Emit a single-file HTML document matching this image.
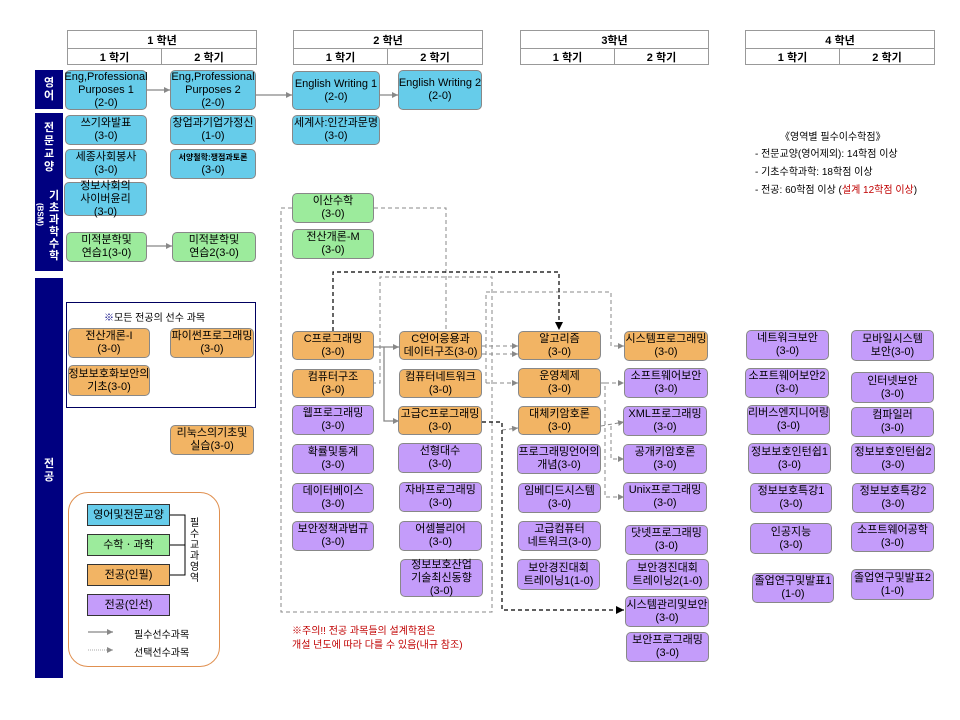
<!DOCTYPE html>
<html><head><meta charset="utf-8"><style>
body{margin:0;width:960px;height:720px;background:#fff;position:relative;overflow:hidden;font-family:"Liberation Sans","Noto Sans CJK KR","NanumGothic",sans-serif;}
.b{position:absolute;box-sizing:border-box;border:1px solid #888;border-radius:5px;display:flex;align-items:center;justify-content:center;text-align:center;font-size:11px;line-height:13px;color:#000;white-space:nowrap;overflow:visible;}
.bl{background:#66CCEA;}.g{background:#9CEB9C;}.o{background:#F2B464;}.p{background:#C49CFA;}
.h{position:absolute;box-sizing:border-box;border:1px solid #999;background:#fff;font-weight:bold;font-size:11px;display:flex;align-items:center;justify-content:center;}
.nav{position:absolute;background:#000080;}
.nl{position:absolute;color:#fff;font-weight:bold;font-size:11px;text-align:center;line-height:13px;width:28px;}
.t{position:absolute;font-size:10px;white-space:nowrap;}
svg{position:absolute;left:0;top:0;}
</style></head><body>
<!-- headers -->
<div class="h" style="left:67px;top:30px;width:190px;height:19px">1 학년</div>
<div class="h" style="left:67px;top:48px;width:95px;height:17px">1 학기</div>
<div class="h" style="left:161px;top:48px;width:96px;height:17px">2 학기</div>
<div class="h" style="left:293px;top:30px;width:190px;height:19px">2 학년</div>
<div class="h" style="left:293px;top:48px;width:95px;height:17px">1 학기</div>
<div class="h" style="left:387px;top:48px;width:96px;height:17px">2 학기</div>
<div class="h" style="left:520px;top:30px;width:189px;height:19px">3학년</div>
<div class="h" style="left:520px;top:48px;width:95px;height:17px">1 학기</div>
<div class="h" style="left:614px;top:48px;width:95px;height:17px">2 학기</div>
<div class="h" style="left:745px;top:30px;width:190px;height:19px">4 학년</div>
<div class="h" style="left:745px;top:48px;width:95px;height:17px">1 학기</div>
<div class="h" style="left:839px;top:48px;width:96px;height:17px">2 학기</div>
<!-- side bars -->
<div class="nav" style="left:35px;top:70px;width:28px;height:39px"></div>
<div class="nl" style="left:35px;top:77px">영<br>어</div>
<div class="nav" style="left:35px;top:113px;width:28px;height:158px"></div>
<div class="nl" style="left:35px;top:122px">전<br>문<br>교<br>양</div>
<div class="nl" style="left:40px;top:190px;line-height:12px">기<br>초<br>과<br>학<br>수<br>학</div>
<div class="nl" style="left:28px;top:210px;width:24px;font-size:8px;line-height:9px;transform:rotate(90deg)">(BSM)</div>
<div class="nav" style="left:35px;top:278px;width:28px;height:400px"></div>
<div class="nl" style="left:35px;top:458px">전<br>공</div>

<svg width="960" height="720">
<defs>
<marker id="ag" markerWidth="6" markerHeight="6" refX="6" refY="3" orient="auto" markerUnits="userSpaceOnUse"><path d="M0,0 L6,3 L0,6z" fill="#888"/></marker>
<marker id="ak" markerWidth="8" markerHeight="8" refX="8" refY="4" orient="auto" markerUnits="userSpaceOnUse"><path d="M0,0 L8,4 L0,8z" fill="#000"/></marker>
</defs>
<g stroke="#888" stroke-width="1.3" fill="none">
<line x1="147" y1="90" x2="170" y2="90" marker-end="url(#ag)"/>
<line x1="256" y1="95" x2="292" y2="95" marker-end="url(#ag)"/>
<line x1="380" y1="95" x2="398" y2="95" marker-end="url(#ag)"/>
<line x1="147" y1="246" x2="172" y2="246" marker-end="url(#ag)"/>
<line x1="374" y1="347" x2="399" y2="347" marker-end="url(#ag)"/>
<polyline points="384,347 384,421 399,421" marker-end="url(#ag)"/>
</g>
<g stroke="#888" stroke-width="1" fill="none" stroke-dasharray="4,3">
<polyline points="292,208 281,208 281,612 492,612 492,277 380,277 380,383 374,383"/>
<polyline points="374,208 446,208 446,331"/>
<polyline points="486,383 486,292 611,292 611,346 624,346" marker-end="url(#ag)"/>
<line x1="486" y1="383" x2="518" y2="383" marker-end="url(#ag)"/>
<line x1="482" y1="346" x2="518" y2="346" marker-end="url(#ag)"/>
<line x1="482" y1="354" x2="518" y2="354" marker-end="url(#ag)"/>
<polyline points="601,383 605,383 605,497 624,497" marker-end="url(#ag)"/>
<line x1="605" y1="383" x2="624" y2="383" marker-end="url(#ag)"/>
<polyline points="601,426 624,422" marker-end="url(#ag)"/>
<polyline points="611,426 611,459 624,459" marker-end="url(#ag)"/>
<polyline points="502,430 518,428" marker-end="url(#ag)"/>
</g>
<g stroke="#000" stroke-width="1.2" fill="none" stroke-dasharray="4,3">
<polyline points="333,331 333,272 559,272 559,330" marker-end="url(#ak)"/>
<polyline points="482,422 502,422 502,610 624,610" marker-end="url(#ak)"/>
</g>
</svg>

<!-- 영어 / 교양 -->
<div class="b bl" style="left:65px;top:70px;width:82px;height:40px">Eng,Professional<br>Purposes 1<br>(2-0)</div>
<div class="b bl" style="left:170px;top:70px;width:86px;height:40px">Eng,Professional<br>Purposes 2<br>(2-0)</div>
<div class="b bl" style="left:292px;top:71px;width:88px;height:39px">English Writing 1<br>(2-0)</div>
<div class="b bl" style="left:398px;top:70px;width:84px;height:40px">English Writing 2<br>(2-0)</div>
<div class="b bl" style="left:65px;top:115px;width:82px;height:30px">쓰기와발표<br>(3-0)</div>
<div class="b bl" style="left:170px;top:115px;width:86px;height:30px">창업과기업가정신<br>(1-0)</div>
<div class="b bl" style="left:292px;top:115px;width:88px;height:30px">세계사:인간과문명<br>(3-0)</div>
<div class="b bl" style="left:65px;top:149px;width:82px;height:30px">세종사회봉사<br>(3-0)</div>
<div class="b bl" style="left:170px;top:149px;width:86px;height:30px"><div><span style="font-size:8px;font-weight:bold">서양철학:쟁점과토론</span><br>(3-0)</div></div>
<div class="b bl" style="left:64px;top:182px;width:83px;height:34px">정보사회의<br>사이버윤리<br>(3-0)</div>
<div class="b g" style="left:66px;top:232px;width:81px;height:30px">미적분학및<br>연습1(3-0)</div>
<div class="b g" style="left:172px;top:232px;width:84px;height:30px">미적분학및<br>연습2(3-0)</div>
<div class="b g" style="left:292px;top:193px;width:82px;height:30px">이산수학<br>(3-0)</div>
<div class="b g" style="left:292px;top:229px;width:82px;height:30px">전산개론-M<br>(3-0)</div>

<!-- 전공 선수 -->
<div style="position:absolute;left:66px;top:302px;width:190px;height:106px;border:1px solid #000060;box-sizing:border-box"></div>
<div class="t" style="left:104px;top:309px;font-size:10px"><span style="color:#000080">※</span>모든 전공의 선수 과목</div>
<div class="b o" style="left:68px;top:328px;width:82px;height:30px">전산개론-I<br>(3-0)</div>
<div class="b o" style="left:170px;top:328px;width:84px;height:30px">파이썬프로그래밍<br>(3-0)</div>
<div class="b o" style="left:68px;top:365px;width:82px;height:31px">정보보호화보안의<br>기초(3-0)</div>
<div class="b o" style="left:170px;top:425px;width:84px;height:30px">리눅스의기초및<br>실습(3-0)</div>

<!-- legend -->
<div style="position:absolute;left:68px;top:492px;width:152px;height:175px;border:1px solid #E09050;border-radius:20px;box-sizing:border-box"></div>
<div class="b bl" style="left:87px;top:504px;width:83px;height:22px;border-radius:0;border-color:#333">영어및전문교양</div>
<div class="b g" style="left:87px;top:534px;width:83px;height:22px;border-radius:0;border-color:#333">수학ㆍ과학</div>
<div class="b o" style="left:87px;top:564px;width:83px;height:22px;border-radius:0;border-color:#333">전공(인필)</div>
<div class="b p" style="left:87px;top:594px;width:83px;height:22px;border-radius:0;border-color:#333">전공(인선)</div>
<svg width="960" height="720"><g stroke="#000" fill="none"><polyline points="170,515 185,515 185,575 170,575"/><line x1="170" y1="545" x2="185" y2="545"/></g>
<line x1="88" y1="632" x2="113" y2="632" stroke="#888" stroke-width="1.2" marker-end="url(#ag)"/>
<line x1="88" y1="650" x2="113" y2="650" stroke="#aaa" stroke-dasharray="1,1" marker-end="url(#ag)"/></svg>
<div class="t" style="left:190px;top:518px;font-size:10px;line-height:11px;width:12px;white-space:normal">필수교과영역</div>
<div class="t" style="left:134px;top:626px">필수선수과목</div>
<div class="t" style="left:134px;top:644px">선택선수과목</div>

<!-- 2학년 -->
<div class="b o" style="left:292px;top:331px;width:82px;height:29px">C프로그래밍<br>(3-0)</div>
<div class="b o" style="left:292px;top:369px;width:82px;height:29px">컴퓨터구조<br>(3-0)</div>
<div class="b p" style="left:292px;top:405px;width:82px;height:30px">웹프로그래밍<br>(3-0)</div>
<div class="b p" style="left:292px;top:444px;width:82px;height:30px">확률및통계<br>(3-0)</div>
<div class="b p" style="left:292px;top:483px;width:82px;height:30px">데이터베이스<br>(3-0)</div>
<div class="b p" style="left:292px;top:521px;width:82px;height:30px">보안정책과법규<br>(3-0)</div>
<div class="b o" style="left:399px;top:331px;width:83px;height:29px">C언어응용과<br>데이터구조(3-0)</div>
<div class="b o" style="left:399px;top:369px;width:83px;height:29px">컴퓨터네트워크<br>(3-0)</div>
<div class="b o" style="left:398px;top:406px;width:84px;height:29px">고급C프로그래밍<br>(3-0)</div>
<div class="b p" style="left:398px;top:443px;width:84px;height:30px">선형대수<br>(3-0)</div>
<div class="b p" style="left:399px;top:482px;width:83px;height:30px">자바프로그래밍<br>(3-0)</div>
<div class="b p" style="left:399px;top:521px;width:83px;height:30px">어셈블리어<br>(3-0)</div>
<div class="b p" style="left:400px;top:559px;width:83px;height:38px">정보보호산업<br>기술최신동향<br>(3-0)</div>

<!-- 3학년 -->
<div class="b o" style="left:518px;top:331px;width:83px;height:29px">알고리즘<br>(3-0)</div>
<div class="b o" style="left:518px;top:368px;width:83px;height:30px">운영체제<br>(3-0)</div>
<div class="b o" style="left:518px;top:406px;width:83px;height:29px">대체키암호론<br>(3-0)</div>
<div class="b p" style="left:517px;top:444px;width:84px;height:30px">프로그래밍언어의<br>개념(3-0)</div>
<div class="b p" style="left:518px;top:483px;width:83px;height:30px">임베디드시스템<br>(3-0)</div>
<div class="b p" style="left:518px;top:521px;width:83px;height:30px">고급컴퓨터<br>네트워크(3-0)</div>
<div class="b p" style="left:517px;top:559px;width:83px;height:31px">보안경진대회<br>트레이닝1(1-0)</div>
<div class="b o" style="left:624px;top:331px;width:84px;height:30px">시스템프로그래밍<br>(3-0)</div>
<div class="b p" style="left:624px;top:368px;width:84px;height:30px">소프트웨어보안<br>(3-0)</div>
<div class="b p" style="left:623px;top:406px;width:84px;height:30px">XML프로그래밍<br>(3-0)</div>
<div class="b p" style="left:623px;top:444px;width:84px;height:30px">공개키암호론<br>(3-0)</div>
<div class="b p" style="left:623px;top:482px;width:84px;height:30px">Unix프로그래밍<br>(3-0)</div>
<div class="b p" style="left:625px;top:525px;width:83px;height:30px">닷넷프로그래밍<br>(3-0)</div>
<div class="b p" style="left:626px;top:559px;width:83px;height:31px">보안경진대회<br>트레이닝2(1-0)</div>
<div class="b p" style="left:625px;top:596px;width:84px;height:31px">시스템관리및보안<br>(3-0)</div>
<div class="b p" style="left:626px;top:632px;width:83px;height:30px">보안프로그래밍<br>(3-0)</div>

<!-- 4학년 -->
<div class="b p" style="left:746px;top:330px;width:83px;height:30px">네트워크보안<br>(3-0)</div>
<div class="b p" style="left:745px;top:368px;width:84px;height:30px">소프트웨어보안2<br>(3-0)</div>
<div class="b p" style="left:747px;top:405px;width:83px;height:30px">리버스엔지니어링<br>(3-0)</div>
<div class="b p" style="left:748px;top:443px;width:83px;height:31px">정보보호인턴쉽1<br>(3-0)</div>
<div class="b p" style="left:750px;top:483px;width:82px;height:30px">정보보호특강1<br>(3-0)</div>
<div class="b p" style="left:750px;top:523px;width:82px;height:31px">인공지능<br>(3-0)</div>
<div class="b p" style="left:752px;top:573px;width:82px;height:30px">졸업연구및발표1<br>(1-0)</div>
<div class="b p" style="left:851px;top:330px;width:83px;height:31px">모바일시스템<br>보안(3-0)</div>
<div class="b p" style="left:851px;top:372px;width:83px;height:31px">인터넷보안<br>(3-0)</div>
<div class="b p" style="left:851px;top:407px;width:83px;height:30px">컴파일러<br>(3-0)</div>
<div class="b p" style="left:851px;top:443px;width:84px;height:31px">정보보호인턴쉽2<br>(3-0)</div>
<div class="b p" style="left:852px;top:483px;width:82px;height:30px">정보보호특강2<br>(3-0)</div>
<div class="b p" style="left:851px;top:522px;width:83px;height:30px">소프트웨어공학<br>(3-0)</div>
<div class="b p" style="left:851px;top:569px;width:83px;height:31px">졸업연구및발표2<br>(1-0)</div>

<!-- notes -->
<div class="t" style="left:780px;top:128px">《영역별 필수이수학점》</div>
<div class="t" style="left:755px;top:145px">- 전문교양(영어제외): 14학점 이상</div>
<div class="t" style="left:755px;top:163px">- 기초수학과학: 18학점 이상</div>
<div class="t" style="left:755px;top:181px">- 전공: 60학점 이상 (<span style="color:#C00000">설계 12학점 이상</span>)</div>
<div class="t" style="left:292px;top:625px;color:#C00000;line-height:14px">※주의!! 전공 과목들의 설계학점은<br>개설 년도에 따라 다를 수 있음(내규 참조)</div>
</body></html>
